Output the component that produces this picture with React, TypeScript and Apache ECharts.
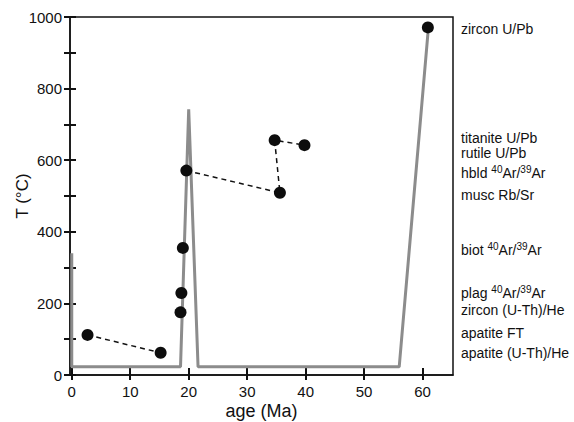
import React, { useEffect, useRef } from "react";
import * as echarts from "echarts";

// thermal path (grey line)
const pathAges = [0, 0, 18.6, 20, 21.6, 56, 61];
const pathTemps = [340, 23, 23, 742, 23, 23, 971];

// sample points
const sampleAges = [2.7, 15.2, 18.6, 18.75, 19.0, 19.6, 35.6, 34.7, 39.8, 60.9];
const sampleTemps = [112, 62, 175, 229, 355, 571, 509, 656, 642, 971];

// dashed connectors
const dashAAges = [2.7, 15.2];
const dashATemps = [112, 62];
const dashBAges = [19.6, 35.6, 34.7, 39.8];
const dashBTemps = [571, 509, 656, 642];

// x tick values
const xTicks = [0, 10, 20, 30, 40, 50, 60];

// right-hand system labels and their temperature levels
const sysLabels = [
  "zircon U/Pb",
  "titanite U/Pb",
  "rutile U/Pb",
  "hbld {sup|40}Ar/{sup|39}Ar",
  "musc Rb/Sr",
  "biot {sup|40}Ar/{sup|39}Ar",
  "plag {sup|40}Ar/{sup|39}Ar",
  "zircon (U-Th)/He",
  "apatite FT",
  "apatite (U-Th)/He",
];
const sysTemps = [966, 662, 620, 563, 504, 350, 230, 182, 118, 62];

const FONT = "Liberation Sans, Arial, Helvetica, sans-serif";
const X_MIN = -0.3;
const X_MAX = 65.2;

const zip = (a: number[], b: number[]) => a.map((v, i) => [v, b[i]]);

export default function App() {
  const ref = useRef<HTMLDivElement>(null);
  useEffect(() => {
    if (!ref.current) return;
    const chart = echarts.init(ref.current, null, { renderer: "svg" });
    const axisLineStyle = { color: "#111", width: 1.5 };
    chart.setOption({
      animation: false,
      backgroundColor: "#fff",
      textStyle: { fontFamily: FONT },
      grid: {
        left: 70,
        right: 121,
        top: 17,
        bottom: 47,
        containLabel: false,
        outerBoundsMode: "none",
        show: true,
        borderColor: "#111",
        borderWidth: 1.5,
        backgroundColor: "transparent",
      },
      xAxis: [
        {
          type: "value",
          min: X_MIN,
          max: X_MAX,
          position: "bottom",
          name: "age (Ma)",
          nameLocation: "middle",
          nameGap: 27,
          nameMoveOverlap: false,
          nameTextStyle: { fontSize: 18, color: "#111", fontFamily: FONT },
          axisLine: { show: true, onZero: false, lineStyle: axisLineStyle },
          axisTick: { show: true, length: 5, lineStyle: { color: "#111", width: 2 }, customValues: xTicks },
          axisLabel: { show: true, customValues: xTicks, fontSize: 15, color: "#111", margin: 9, fontFamily: FONT },
          splitLine: { show: false },
        },
        {
          type: "value",
          min: X_MIN,
          max: X_MAX,
          position: "bottom",
          axisLine: { show: false, onZero: false },
          axisTick: { show: true, inside: true, length: 7, lineStyle: { color: "#111", width: 2 }, customValues: xTicks },
          axisLabel: { show: false },
          splitLine: { show: false },
        },
      ],
      yAxis: [
        {
          type: "value",
          min: 0,
          max: 1000,
          interval: 100,
          position: "left",
          name: "T (°C)",
          nameLocation: "middle",
          nameGap: 39,
          nameMoveOverlap: false,
          nameTextStyle: { fontSize: 17, color: "#111", fontFamily: FONT },
          axisLine: { show: true, onZero: false, lineStyle: axisLineStyle },
          axisTick: { show: true, length: 6, lineStyle: { color: "#111", width: 2 } },
          axisLabel: {
            fontSize: 15,
            color: "#111",
            margin: 8,
            fontFamily: FONT,
            formatter: (v: number) => (v % 200 === 0 ? String(v) : ""),
          },
          splitLine: { show: false },
        },
        {
          type: "value",
          min: 0,
          max: 1000,
          interval: 100,
          position: "left",
          axisLine: { show: false, onZero: false },
          axisTick: { show: true, inside: true, length: 6, lineStyle: { color: "#111", width: 2 } },
          axisLabel: { show: false },
          splitLine: { show: false },
        },
      ],
      series: [
        {
          type: "line",
          data: zip(pathAges, pathTemps),
          symbol: "none",
          lineStyle: { color: "#8c8c8c", width: 3 },
          z: 1,
          clip: false,
        },
        {
          type: "line",
          data: zip(dashAAges, dashATemps),
          symbol: "none",
          lineStyle: { color: "#111", width: 1.5, type: [5, 4] },
          z: 2,
        },
        {
          type: "line",
          data: zip(dashBAges, dashBTemps),
          symbol: "none",
          lineStyle: { color: "#111", width: 1.5, type: [5, 4] },
          z: 2,
        },
        {
          type: "scatter",
          data: zip(sampleAges, sampleTemps),
          symbol: "circle",
          symbolSize: 12,
          itemStyle: { color: "#0d0d0d", opacity: 1 },
          z: 3,
        },
      ],
    });

    const xRight = chart.convertToPixel({ xAxisIndex: 0 }, X_MAX) as number;
    chart.setOption({
      graphic: sysLabels.map((t, i) => ({
        type: "text",
        x: xRight + 8,
        y: chart.convertToPixel({ yAxisIndex: 0 }, sysTemps[i]) as number,
        style: {
          text: t,
          fontSize: 14,
          fontFamily: FONT,
          fill: "#111",
          verticalAlign: "middle",
          align: "left",
          rich: {
            sup: { fontSize: 10, fontFamily: FONT, fill: "#111", padding: [0, 0, 7, 0] },
          },
        },
      })),
    });

    return () => chart.dispose();
  }, []);
  return <div ref={ref} style={{ position: "absolute", left: 0, top: 0, width: 574, height: 422 }} />;
}
